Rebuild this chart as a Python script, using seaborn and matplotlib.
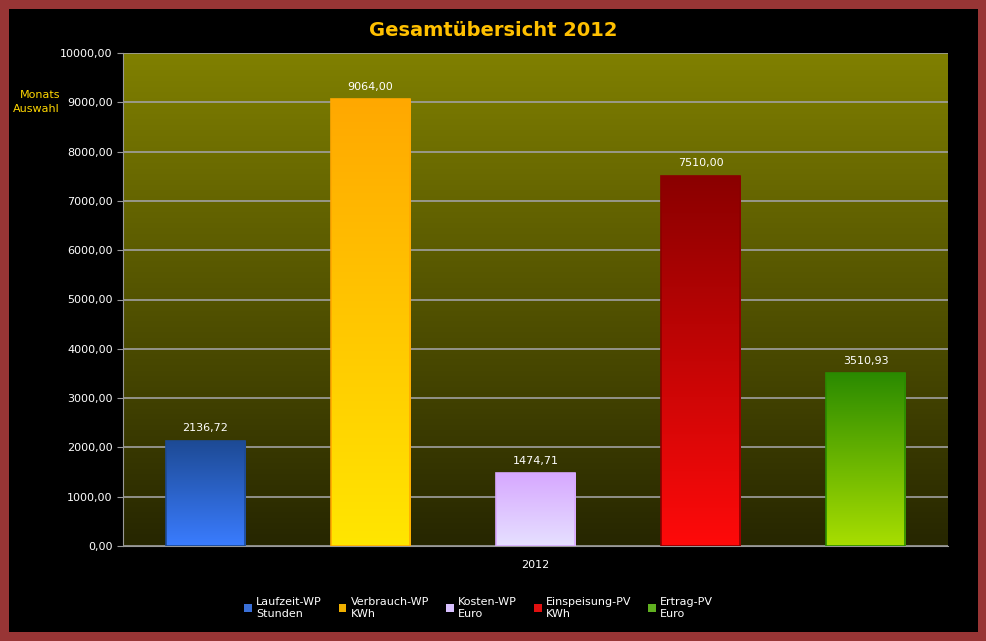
import numpy as np
import pandas as pd
import seaborn as sns
from matplotlib import pyplot as plt
from matplotlib.patches import Rectangle
from matplotlib.colors import LinearSegmentedColormap

series = ['Laufzeit-WP\nStunden', 'Verbrauch-WP\nKWh', 'Kosten-WP\nEuro', 'Einspeisung-PV\nKWh', 'Ertrag-PV\nEuro']
values = [2136.72, 9064.00, 1474.71, 7510.00, 3510.93]
grad_top = ['#1d4a94', '#ffa800', '#d7a8ff', '#8a0000', '#2a8a00']
grad_bottom = ['#3a7cff', '#ffe600', '#e6e0ff', '#ff0a0a', '#a8de00']
legend_col = ['#3a70d8', '#f0b000', '#d8c0ff', '#e01010', '#60b020']

df = pd.DataFrame({'series': series, 'value': values})

fig = plt.figure(figsize=(9.87, 6.41), dpi=100, facecolor='#983535')
fig.add_artist(Rectangle((9/987, 9/641), 1 - 18/987, 1 - 18/641, transform=fig.transFigure,
                         facecolor='black', edgecolor='none', zorder=0))
ax = fig.add_axes([123/987, 1 - 546/641, 825/987, 493/641])
ax.set_facecolor('none')

sns.barplot(data=df, x='series', y='value', hue='series', palette=legend_col,
            width=0.48, ax=ax, legend=False, zorder=3)

ax.set_xlim(-0.5, 4.5)
ax.set_ylim(0, 10000)

# olive background gradient
bg = LinearSegmentedColormap.from_list('bg', ['#262600', '#808000'])
ax.imshow(np.linspace(0, 1, 256).reshape(-1, 1), aspect='auto', cmap=bg, origin='lower',
          extent=(-0.5, 4.5, 0, 10000), zorder=0)

# vertical gradients inside bars
for patch, top, bot in zip(ax.patches, grad_top, grad_bottom):
    cm = LinearSegmentedColormap.from_list('g', [bot, top])
    x0, w, h = patch.get_x(), patch.get_width(), patch.get_height()
    im = ax.imshow(np.linspace(0, 1, 256).reshape(-1, 1), aspect='auto', cmap=cm, origin='lower',
                   extent=(x0, x0 + w, 0, h), zorder=4)
    im.set_clip_path(patch)
    ax.add_patch(Rectangle((x0, 0), w, h, facecolor='none', edgecolor=top, lw=1.2, zorder=5))
    ax.text(x0 + w / 2, h + 150, f'{h:.2f}'.replace('.', ','), ha='center', va='bottom',
            color='white', fontsize=8, zorder=6)

ax.set_xlim(-0.5, 4.5)
ax.set_ylim(0, 10000)
ax.set_yticks(np.arange(0, 10001, 1000))
ax.set_yticklabels([f'{v},00' for v in range(0, 10001, 1000)], color='white', fontsize=8)
ax.set_xticks([2])
ax.set_xticklabels(['2012'], color='white', fontsize=8)
ax.tick_params(axis='x', length=0, pad=10)
ax.tick_params(axis='y', length=4, color='#999999')
ax.grid(axis='y', color='#a0a0a0', lw=1.2, zorder=1)
ax.set_axisbelow(True)
for s in ['top', 'right']:
    ax.spines[s].set_visible(False)
ax.spines['left'].set_color('#999999')
ax.spines['bottom'].set_color('#999999')
ax.set_xlabel('')
ax.set_ylabel('')

fig.text(0.5, 1 - 31/641, 'Gesamtübersicht 2012', ha='center', va='center',
         color='#ffc000', fontsize=14, fontweight='bold')
fig.text(60/987, 1 - 102/641, 'Monats\nAuswahl', ha='right', va='center',
         color='#ffd700', fontsize=8, linespacing=1.4)

handles = [Rectangle((0, 0), 1, 1, facecolor=c) for c in legend_col]
fig.legend(handles, series, loc='center', bbox_to_anchor=(0.485, 1 - 608/641), ncol=5,
           frameon=False, fontsize=8, labelcolor='white', handlelength=0.7, handleheight=0.7,
           columnspacing=1.5, handletextpad=0.4)

fig.savefig('out.png', dpi=100, facecolor=fig.get_facecolor())
